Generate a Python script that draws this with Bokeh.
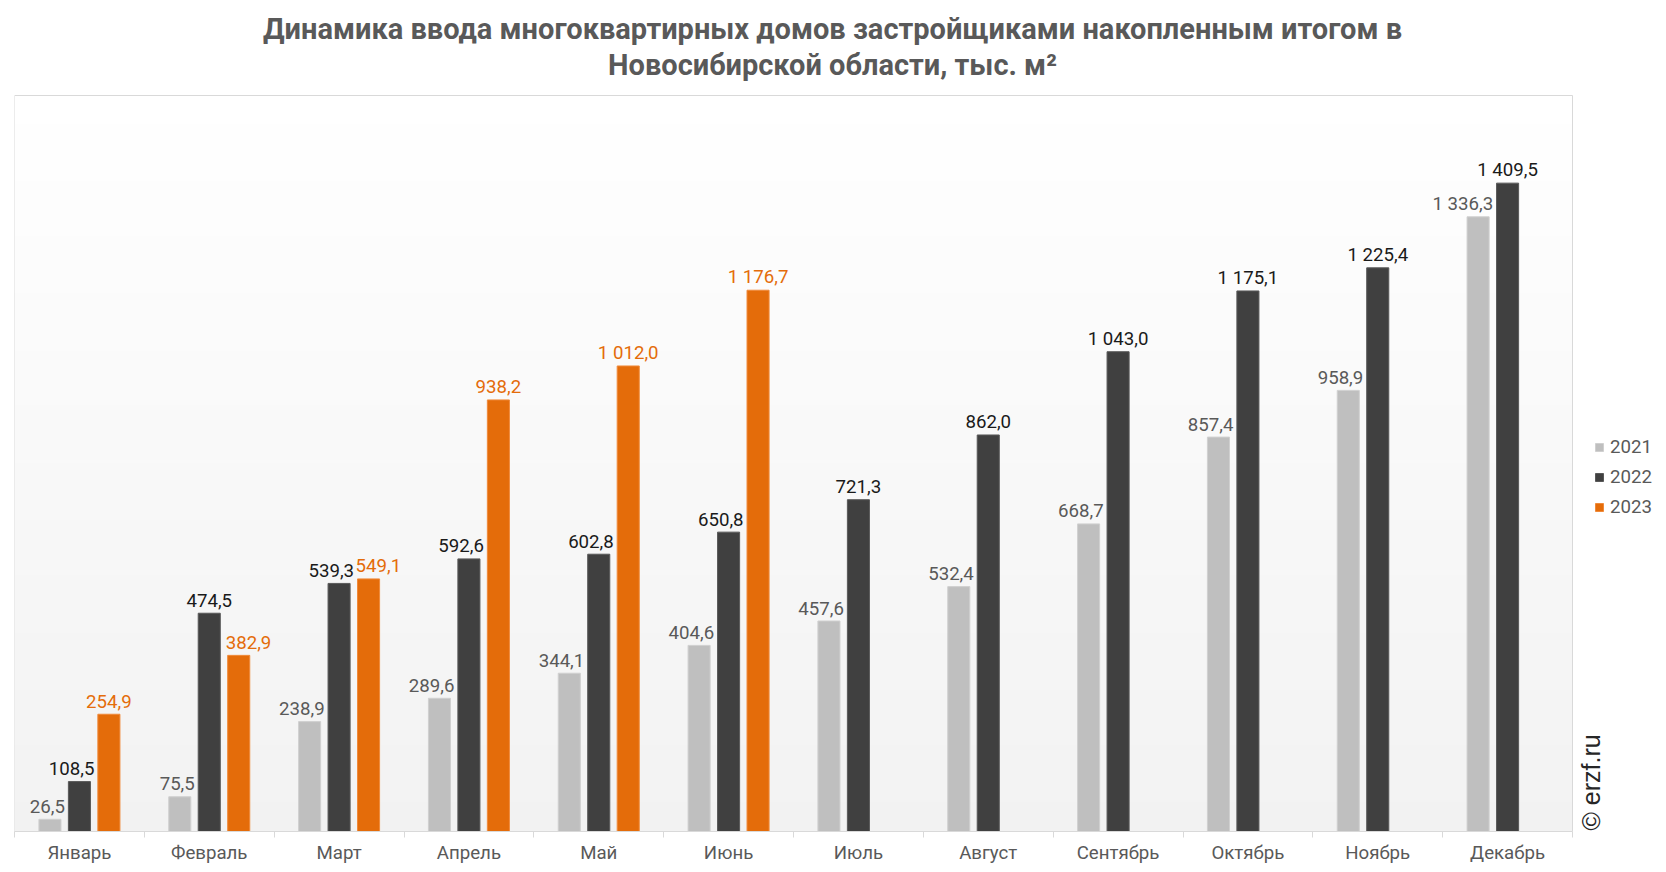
import numpy as np
from bokeh.plotting import figure
from bokeh.models import Range1d, FixedTicker, ColumnDataSource, Label
from bokeh.core.properties import value, field
from bokeh.embed import file_html
from bokeh.resources import INLINE

# ---------------- data ----------------
months = ["Январь", "Февраль", "Март", "Апрель", "Май", "Июнь",
          "Июль", "Август", "Сентябрь", "Октябрь", "Ноябрь", "Декабрь"]
series_names = ["2021", "2022", "2023"]
v2021 = [26.5, 75.5, 238.9, 289.6, 344.1, 404.6, 457.6, 532.4, 668.7, 857.4, 958.9, 1336.3]
v2022 = [108.5, 474.5, 539.3, 592.6, 602.8, 650.8, 721.3, 862.0, 1043.0, 1175.1, 1225.4, 1409.5]
v2023 = [254.9, 382.9, 549.1, 938.2, 1012.0, 1176.7]
title_line1 = "Динамика ввода многоквартирных домов застройщиками накопленным итогом в"
title_line2 = "Новосибирской области, тыс. м²"
watermark = "© erzf.ru"

# ---------------- style / geometry ----------------
fills = ["#bfbfbf", "#404040", "#e46c0a"]
edges = ["#d0d0d0", "#595959", "#f08a3a"]
label_colors = ["#595959", "#1a1a1a", "#e46c0a"]
offsets = [-0.227, 0.0, 0.227]
bar_w = 0.17
FONT = "Roboto"
FS = "18.67px"
YMAX = 1600            # top of the plot area in data units
W, H = 1666, 872
MB_LEFT, MB_BOTTOM = 14, 41
AREA_W, AREA_H = 1558, 736   # plot-area size in px
frame_w = W - MB_LEFT
frame_h = H - MB_BOTTOM
px_x = AREA_W / 12.0
px_y = AREA_H / YMAX
x_end = -0.5 + frame_w / px_x
y_end = frame_h / px_y


def fmt(v):
    s = f"{v:,.1f}"
    return s.replace(",", " ").replace(".", ",")


p = figure(width=W, height=H, output_backend="svg", toolbar_location=None,
           x_range=Range1d(-0.5, x_end), y_range=Range1d(0, y_end),
           y_axis_location=None, title_location=None,
           min_border_left=MB_LEFT, min_border_right=0, min_border_top=0,
           min_border_bottom=MB_BOTTOM,
           border_fill_color="white", background_fill_color="white",
           outline_line_color=None)
p.xgrid.visible = False
p.ygrid.visible = False

# gradient background of plot area (white at top -> light grey at bottom)
n = 256
img = np.empty((n, 1), dtype=np.uint32)
view = img.view(dtype=np.uint8).reshape((n, 1, 4))
for i in range(n):
    t = 1.0 - (i + 0.5) / n  # fraction from the top
    c = int(round(255 - 13 * t))
    view[i, 0, 0] = c
    view[i, 0, 1] = c
    view[i, 0, 2] = c
    view[i, 0, 3] = 255
p.image_rgba(image=[img], x=-0.5, y=0, dw=12, dh=YMAX)
# plot-area outline
p.quad(left=-0.5, right=11.5, bottom=0, top=YMAX, fill_color=None,
       line_color="#d9d9d9", line_width=1)

all_vals = [v2021, v2022, v2023]
for k, vals in enumerate(all_vals):
    xs = [i + offsets[k] for i in range(len(vals))]
    src = ColumnDataSource(dict(x=xs, top=vals))
    p.vbar(x="x", top="top", width=bar_w, source=src, fill_color=fills[k],
           line_color=edges[k], line_width=1, legend_label=series_names[k])

# data labels (nudged sideways where a neighbouring bar is taller, as in the original)
for k, vals in enumerate(all_vals):
    xs, ys, ts, al, dx = [], [], [], [], []
    for i, v in enumerate(vals):
        if k == 0:
            a, d = "right", 15
        elif k == 1:
            if i < len(v2023) and v2023[i] > v:
                a, d = "right", 15
            else:
                a, d = "center", 0
        else:
            if v2022[i] > v - 60:
                a, d = "left", -13
            else:
                a, d = "center", 0
        xs.append(i + offsets[k])
        ys.append(v)
        ts.append(fmt(v))
        al.append(a)
        dx.append(d)
    src = ColumnDataSource(dict(x=xs, y=ys, t=ts, al=al, dx=dx))
    p.text(x="x", y="y", text="t", source=src, text_align=field("al"),
           x_offset=field("dx"), y_offset=-13, text_baseline="alphabetic",
           text_font=value(FONT), text_font_size=value(FS), text_color=label_colors[k])

# x axis: labels at centres, ticks at category boundaries
ax = p.xaxis[0]
ax.bounds = (-0.5, 11.5)
ax.ticker = FixedTicker(ticks=list(range(12)), minor_ticks=[i - 0.5 for i in range(13)])
ax.major_label_overrides = {i: m for i, m in enumerate(months)}
ax.major_tick_out = 0
ax.major_tick_in = 0
ax.minor_tick_out = 6
ax.minor_tick_in = 0
ax.minor_tick_line_color = "#d9d9d9"
ax.axis_line_color = "#d9d9d9"
ax.major_label_standoff = 4
ax.major_label_text_font = FONT
ax.major_label_text_font_size = FS
ax.major_label_text_color = "#595959"

# legend
lg = p.legend[0]
lg.location = (1580, 313)
lg.background_fill_alpha = 0
lg.border_line_alpha = 0
lg.padding = 0
lg.margin = 0
lg.spacing = 8
lg.glyph_width = 10
lg.glyph_height = 10
lg.label_standoff = 6
lg.label_height = 20
lg.label_text_font = FONT
lg.label_text_font_size = FS
lg.label_text_color = "#595959"

# titles
p.add_layout(Label(x=5.5, y=YMAX, x_offset=39, y_offset=67, text=title_line1,
                   text_align="center", text_baseline="middle", text_font=FONT,
                   text_font_style="bold", text_font_size="29px", text_color="#595959"))
p.add_layout(Label(x=5.5, y=YMAX, x_offset=39, y_offset=31, text=title_line2,
                   text_align="center", text_baseline="middle", text_font=FONT,
                   text_font_style="bold", text_font_size="29px", text_color="#595959"))

# watermark
p.add_layout(Label(x=11.5, y=0, x_offset=18, y_offset=1, angle=np.pi / 2, text=watermark,
                   text_align="left", text_baseline="middle", text_font="Liberation Sans",
                   text_font_size="25px", text_color="#262626"))

open("out.html", "w").write(file_html(p, INLINE))
